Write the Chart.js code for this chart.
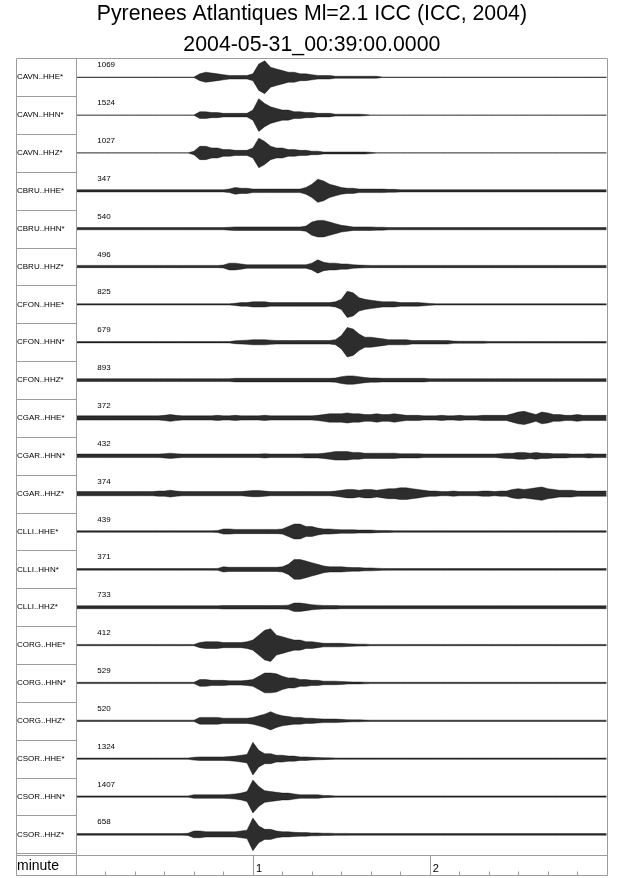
<!DOCTYPE html>
<html>
<head>
<meta charset="utf-8">
<script src="https://cdn.jsdelivr.net/npm/chart.js@4.4.1/dist/chart.umd.min.js"></script>
<style>
  html, body { margin: 0; padding: 0; background: #fff; }
  #wrap { width: 640px; height: 878px; position: relative; }
</style>
</head>
<body>
<div id="wrap"><canvas id="seis"></canvas></div>
<script>
// station / channel names, top to bottom
const stations = [
  'CAVN..HHE*', 'CAVN..HHN*', 'CAVN..HHZ*',
  'CBRU..HHE*', 'CBRU..HHN*', 'CBRU..HHZ*',
  'CFON..HHE*', 'CFON..HHN*', 'CFON..HHZ*',
  'CGAR..HHE*', 'CGAR..HHN*', 'CGAR..HHZ*',
  'CLLI..HHE*', 'CLLI..HHN*', 'CLLI..HHZ*',
  'CORG..HHE*', 'CORG..HHN*', 'CORG..HHZ*',
  'CSOR..HHE*', 'CSOR..HHN*', 'CSOR..HHZ*'
];

// peak amplitude printed above each trace
const amplitudes = [1069, 1524, 1027, 347, 540, 496, 825, 679, 893, 372, 432, 374,
                    439, 371, 733, 412, 529, 520, 1324, 1407, 658];

// sample times in seconds after 00:39:00
const times = [
  0, 2, 4, 6, 8, 10, 12, 14, 16, 18, 20, 22, 24, 26, 28, 30, 32, 34, 36, 38,
  40, 42, 44, 46, 48, 50, 52, 54, 56, 58, 60, 62, 64, 66, 68, 70, 72, 74, 76, 78,
  80, 82, 84, 86, 88, 90, 92, 94, 96, 98, 100, 102, 104, 106, 108, 110, 112, 114, 116, 118,
  120, 122, 124, 126, 128, 130, 132, 134, 136, 138, 140, 142, 144, 146, 148, 150, 152, 154, 156, 158,
  160, 162, 164, 166, 168, 170, 172, 174, 176, 178, 180
];

const minuteTicks = [60, 120];
const minuteLabels = ['1', '2'];
const minorTicks = [10, 20, 30, 40, 50, 70, 80, 90, 100, 110, 130, 140, 150, 160, 170];

// envelope of each trace (0..10, 10 = trace maximum), one value per sample time
const cavnHHE = [
  0,0,0,0,0,0,0,0,0,0, 0,0,0,0,0,0,0,0,0,0,
  0,2,3,2.5,2,1.5,1,1,1,1, 2,8,10,6,5,4,3,3,2,2,
  1.5,1,1,1,0.5,0.5,0.5,0.5,0.5,0.5, 0.5,0.5,0,0,0,0,0,0,0,0,
  0,0,0,0,0,0,0,0,0,0, 0,0,0,0,0,0,0,0,0,0, 0,0,0,0,0,0,0,0,0,0, 0];
const cavnHHN = [
  0,0,0,0,0,0,0,0,0,0, 0,0,0,0,0,0,0,0,0,0,
  0,2,2,1.5,1.5,1,1,1,1,1, 3,10,7,5,4,3,3,2,2,1.5,
  1.5,1,1,1,0.5,0.5,0.5,0.5,0.5,0.3, 0,0,0,0,0,0,0,0,0,0,
  0,0,0,0,0,0,0,0,0,0, 0,0,0,0,0,0,0,0,0,0, 0,0,0,0,0,0,0,0,0,0, 0];
const cavnHHZ = [
  0,0,0,0,0,0,0,0,0,0, 0,0,0,0,0,0,0,0,0,0,
  1,4,4,3,3,2,2,1.5,1.5,1.5, 3,9,7,4,3,3,2,2,1.5,1.5,
  1,1,0.5,0.5,0.5,0.5,0.5,0.5,0.5,0.5, 0.3,0,0,0,0,0,0,0,0,0,
  0,0,0,0,0,0,0,0,0,0, 0,0,0,0,0,0,0,0,0,0, 0,0,0,0,0,0,0,0,0,0, 0];
const cbruHHE = [
  0.6,0.6,0.6,0.6,0.6,0.6,0.6,0.6,0.6,0.6, 0.6,0.6,0.6,0.6,0.6,0.6,0.6,0.6,0.6,0.6,
  0.6,0.6,0.6,0.6,0.6,0.6,1,2,1.5,1.5, 1,1,1,1,1,1,1,1,1,2,
  4,7,6,4,3,2,1.5,1.5,1,1, 1,1,1,0.8,0.8,0.6,0.6,0.6,0.6,0.6,
  0.6,0.6,0.6,0.6,0.6,0.6,0.6,0.6,0.6,0.6, 0.6,0.6,0.6,0.6,0.6,0.6,0.6,0.6,0.6,0.6,
  0.6,0.6,0.6,0.6,0.6,0.6,0.6,0.6,0.6,0.6, 0.6];
const cbruHHN = [
  0.6,0.6,0.6,0.6,0.6,0.6,0.6,0.6,0.6,0.6, 0.6,0.6,0.6,0.6,0.6,0.6,0.6,0.6,0.6,0.6,
  0.6,0.6,0.6,0.6,0.6,0.6,0.8,1,1,1, 1,1,1,1,1,1,1,1,1,1.5,
  4,5,5,4,3,2,1.5,1,1,1, 1,0.8,0.8,0.6,0.6,0.6,0.6,0.6,0.6,0.6,
  0.6,0.6,0.6,0.6,0.6,0.6,0.6,0.6,0.6,0.6, 0.6,0.6,0.6,0.6,0.6,0.6,0.6,0.6,0.6,0.6,
  0.6,0.6,0.6,0.6,0.6,0.6,0.6,0.6,0.6,0.6, 0.6];
const cbruHHZ = [
  0.6,0.6,0.6,0.6,0.6,0.6,0.6,0.6,0.6,0.6, 0.6,0.6,0.6,0.6,0.6,0.6,0.6,0.6,0.6,0.6,
  0.6,0.6,0.6,0.6,0.6,0.8,2,2,1.5,1, 1,1,1,1,1,1,1,1,1,1,
  2,4,2.5,2,2,1.5,1.5,1,0.8,0.7, 0.6,0.6,0.6,0.6,0.6,0.6,0.6,0.6,0.6,0.6,
  0.6,0.6,0.6,0.6,0.6,0.6,0.6,0.6,0.6,0.6, 0.6,0.6,0.6,0.6,0.6,0.6,0.6,0.6,0.6,0.6,
  0.6,0.6,0.6,0.6,0.6,0.6,0.6,0.6,0.6,0.6, 0.6];
const cfonHHE = [
  0.3,0.3,0.3,0.3,0.3,0.3,0.3,0.3,0.3,0.3, 0.3,0.3,0.3,0.3,0.3,0.3,0.3,0.3,0.3,0.3,
  0.3,0.3,0.3,0.3,0.3,0.3,0.3,0.6,1,1, 1.5,1.5,1.5,1,1,1,1,1,1,1,
  1,1,1,1,1.5,3,8,7,4,3, 2.5,2,1.5,1.5,1.5,1,1,1,1,0.8,
  0.5,0.3,0.3,0.3,0.3,0.3,0.3,0.3,0.3,0.3, 0.3,0.3,0.3,0.3,0.3,0.3,0.3,0.3,0.3,0.3,
  0.3,0.3,0.3,0.3,0.3,0.3,0.3,0.3,0.3,0.3, 0.3];
const cfonHHN = [
  0.3,0.3,0.3,0.3,0.3,0.3,0.3,0.3,0.3,0.3, 0.3,0.3,0.3,0.3,0.3,0.3,0.3,0.3,0.3,0.3,
  0.3,0.3,0.3,0.3,0.3,0.3,0.3,0.8,1,1.2, 1.5,1.5,1.5,1.2,1,1,1,1,1,1,
  1,1,1,1,1.5,4,9,8,5,3, 3,2.5,2,1.5,1.5,1.5,1.5,1,1,1,
  1,1,1,1,0.6,0.5,0.5,0.5,0.5,0.5, 0.4,0.4,0.4,0.4,0.4,0.4,0.4,0.4,0.4,0.4,
  0.4,0.4,0.4,0.4,0.4,0.4,0.4,0.4,0.4,0.4, 0.4];
const cfonHHZ = [
  0.8,0.8,0.8,0.8,0.8,0.8,0.8,0.8,0.8,0.8, 0.8,0.8,0.8,0.8,0.8,0.8,0.8,0.8,0.8,0.8,
  0.8,0.8,0.8,0.8,0.8,0.8,0.8,1,1,1, 1,1,1,1,1,1,1,1,1,1,
  1,1,1,1,1.2,2,2.5,2.5,2,1.5, 1.2,1.2,1,1,1,1,1,1,1,1,
  0.8,0.8,0.8,0.8,0.8,0.8,0.8,0.8,0.8,0.8, 0.8,0.8,0.8,0.8,0.8,0.8,0.8,0.8,0.8,0.8,
  0.8,0.8,0.8,0.8,0.8,0.8,0.8,0.8,0.8,0.8, 0.8];
const cgarHHE = [
  1.2,1.2,1.2,1.2,1.2,1.2,1.2,1.2,1.2,1.2, 1.2,1.2,1.2,1.2,1.2,1.5,2,1.5,1.2,1.2,
  1.2,1.2,1.2,1.2,1.5,1.2,1.2,1.5,1.2,1.2, 1.2,1.2,1.5,1.2,1.2,1.2,1.2,1.2,1.2,1.2,
  1.2,1.5,2,2.5,2.5,2.5,3,2.5,2.5,2, 2,2.5,2,2,2.5,2,1.5,1.5,1.5,1.2,
  1.2,1.2,1.5,1.2,1.2,1.5,1.2,1.2,1.2,1.5, 1.5,1.5,1.5,1.5,2.5,3.5,4,3,2,3.5,
  3,2,2,1.5,1.5,2,1.5,1.5,1.5,1.5, 1.5];
const cgarHHN = [
  1,1,1,1,1,1,1,1,1,1, 1,1,1,1,1,1.2,1.5,1.2,1,1,
  1,1,1,1,1,1,1,1,1,1, 1,1,1.2,1,1,1,1,1,1,1.2,
  1.2,1.2,1.5,2,2.5,2.5,2.5,2,2,1.5, 1.5,1.5,1.5,1.5,1.5,1.2,1.2,1.2,1.2,1,
  1,1,1,1,1,1,1,1,1,1, 1,1,1.2,1.5,1.5,2,2,1.5,2,1.5,
  1.5,1.2,1.2,1.2,1,1,1,1.2,1,1, 1];
const cgarHHZ = [
  1.2,1.2,1.2,1.2,1.2,1.2,1.2,1.2,1.2,1.2, 1.2,1.2,1.2,1.2,1.5,1.5,2,1.5,1.2,1.2,
  1.2,1.2,1.2,1.2,1.2,1.2,1.2,1.2,1.2,1.5, 1.8,1.8,1.5,1.2,1.2,1.2,1.2,1.2,1.2,1.2,
  1.2,1.2,1.2,1.2,1.5,2,2.5,2.5,2,2.5, 2.5,2,2.5,3,3,3.5,3.5,3,2.5,2,
  1.5,1.5,1.2,1.2,1.5,1.2,1.2,1.2,1.2,1.5, 1.5,1.2,1.5,1.5,2.5,3,2.5,3,3.5,4,
  3,2.5,2,2,2,1.5,1.5,1.5,1.5,1.5, 1.5];
const clliHHE = [
  0.4,0.4,0.4,0.4,0.4,0.4,0.4,0.4,0.4,0.4, 0.4,0.4,0.4,0.4,0.4,0.4,0.4,0.4,0.4,0.4,
  0.4,0.4,0.4,0.4,0.5,1.5,1.5,1.2,1.2,1.2, 1.2,1.2,1.2,1.2,1.2,1.5,3,4.5,4.5,3,
  3,2,1.5,1.5,1.2,1,1,1,0.8,0.8, 0.8,0.6,0.5,0.5,0.4,0.4,0.4,0.4,0.4,0.4,
  0.4,0.4,0.4,0.4,0.4,0.4,0.4,0.4,0.4,0.4, 0.4,0.4,0.4,0.4,0.4,0.4,0.4,0.4,0.4,0.4,
  0.4,0.4,0.4,0.4,0.4,0.4,0.4,0.4,0.4,0.4, 0.4];
const clliHHN = [
  0.4,0.4,0.4,0.4,0.4,0.4,0.4,0.4,0.4,0.4, 0.4,0.4,0.4,0.4,0.4,0.4,0.4,0.4,0.4,0.4,
  0.4,0.4,0.4,0.4,0.5,1.5,1.2,1.2,1.2,1.2, 1.2,1.2,1.2,1.2,1.2,1.5,3,6,6,5,
  4,3,2,1.5,1.5,1.5,1.2,1,1,0.8, 0.8,0.6,0.5,0.4,0.4,0.4,0.4,0.4,0.4,0.4,
  0.4,0.4,0.4,0.4,0.4,0.4,0.4,0.4,0.4,0.4, 0.4,0.4,0.4,0.4,0.4,0.4,0.4,0.4,0.4,0.4,
  0.4,0.4,0.4,0.4,0.4,0.4,0.4,0.4,0.4,0.4, 0.4];
const clliHHZ = [
  0.8,0.8,0.8,0.8,0.8,0.8,0.8,0.8,0.8,0.8, 0.8,0.8,0.8,0.8,0.8,0.8,0.8,0.8,0.8,0.8,
  0.8,0.8,0.8,0.8,0.8,1,1,1,1,1, 1,1,1,1,1,1,1.2,2.5,2.5,2,
  1.5,1.2,1,1,1,0.8,0.8,0.8,0.8,0.8, 0.8,0.8,0.8,0.8,0.8,0.8,0.8,0.8,0.8,0.8,
  0.8,0.8,0.8,0.8,0.8,0.8,0.8,0.8,0.8,0.8, 0.8,0.8,0.8,0.8,0.8,0.8,0.8,0.8,0.8,0.8,
  0.8,0.8,0.8,0.8,0.8,0.8,0.8,0.8,0.8,0.8, 0.8];
const corgHHE = [
  0.3,0.3,0.3,0.3,0.3,0.3,0.3,0.3,0.3,0.3, 0.3,0.3,0.3,0.3,0.3,0.3,0.3,0.3,0.3,0.3,
  0.3,1.5,2,2,2,1.5,1.5,1.5,1.5,2, 3,6,9,10,6,5,4,3,3,2,
  2,1.5,1,1,1,1,0.8,0.6,0.5,0.5, 0.3,0.3,0.3,0.3,0.3,0.3,0.3,0.3,0.3,0.3,
  0.3,0.3,0.3,0.3,0.3,0.3,0.3,0.3,0.3,0.3, 0.3,0.3,0.3,0.3,0.3,0.3,0.3,0.3,0.3,0.3,
  0.3,0.3,0.3,0.3,0.3,0.3,0.3,0.3,0.3,0.3, 0.3];
const corgHHN = [
  0.3,0.3,0.3,0.3,0.3,0.3,0.3,0.3,0.3,0.3, 0.3,0.3,0.3,0.3,0.3,0.3,0.3,0.3,0.3,0.3,
  0.3,2,2,1.5,1.5,1.5,1.2,1.2,1.2,1.5, 2,4,6,6,5.5,4,3,3,2,2,
  1.5,1.5,1,1,1,0.8,0.6,0.5,0.5,0.4, 0.3,0.3,0.3,0.3,0.3,0.3,0.3,0.3,0.3,0.3,
  0.3,0.3,0.3,0.3,0.3,0.3,0.3,0.3,0.3,0.3, 0.3,0.3,0.3,0.3,0.3,0.3,0.3,0.3,0.3,0.3,
  0.3,0.3,0.3,0.3,0.3,0.3,0.3,0.3,0.3,0.3, 0.3];
const corgHHZ = [
  0.3,0.3,0.3,0.3,0.3,0.3,0.3,0.3,0.3,0.3, 0.3,0.3,0.3,0.3,0.3,0.3,0.3,0.3,0.3,0.3,
  0.3,2,2,2,2,1.5,1.5,1.5,1.5,1.5, 2,3,4,5.5,4,3,2.5,2,2,1.5,
  1.5,1.2,1,1,1,0.8,0.6,0.5,0.5,0.4, 0.3,0.3,0.3,0.3,0.3,0.3,0.3,0.3,0.3,0.3,
  0.3,0.3,0.3,0.3,0.3,0.3,0.3,0.3,0.3,0.3, 0.3,0.3,0.3,0.3,0.3,0.3,0.3,0.3,0.3,0.3,
  0.3,0.3,0.3,0.3,0.3,0.3,0.3,0.3,0.3,0.3, 0.3];
const csorHHE = [
  0.3,0.3,0.3,0.3,0.3,0.3,0.3,0.3,0.3,0.3, 0.3,0.3,0.3,0.3,0.3,0.3,0.3,0.3,0.3,0.3,
  0.8,1,1,1,1,1,1.2,1.5,2,2.5, 10,5,3,3,2,2,1.5,1.5,1,1,
  0.8,0.6,0.5,0.4,0.3,0.3,0.3,0.3,0.3,0.3, 0.3,0.3,0.3,0.3,0.3,0.3,0.3,0.3,0.3,0.3,
  0.3,0.3,0.3,0.3,0.3,0.3,0.3,0.3,0.3,0.3, 0.3,0.3,0.3,0.3,0.3,0.3,0.3,0.3,0.3,0.3,
  0.3,0.3,0.3,0.3,0.3,0.3,0.3,0.3,0.3,0.3, 0.3];
const csorHHN = [
  0.3,0.3,0.3,0.3,0.3,0.3,0.3,0.3,0.3,0.3, 0.3,0.3,0.3,0.3,0.3,0.3,0.3,0.3,0.3,0.3,
  1,1,1,1,1,1,1.2,1.5,2,3, 10,6,3.5,3,2.5,2,2,1.5,1,1,
  1,1,0.6,0.5,0.3,0.3,0.3,0.3,0.3,0.3, 0.3,0.3,0.3,0.3,0.3,0.3,0.3,0.3,0.3,0.3,
  0.3,0.3,0.3,0.3,0.3,0.3,0.3,0.3,0.3,0.3, 0.3,0.3,0.3,0.3,0.3,0.3,0.3,0.3,0.3,0.3,
  0.3,0.3,0.3,0.3,0.3,0.3,0.3,0.3,0.3,0.3, 0.3];
const csorHHZ = [
  0.4,0.4,0.4,0.4,0.4,0.4,0.4,0.4,0.4,0.4, 0.4,0.4,0.4,0.4,0.4,0.4,0.4,0.4,0.4,0.6,
  2,2,1.5,1.5,1.5,1.5,1.5,1.5,2,2.5, 10,5,3,3,2,1.5,1.5,1.2,1,1,
  0.8,0.8,0.6,0.6,0.5,0.5,0.5,0.4,0.4,0.4, 0.4,0.4,0.4,0.4,0.4,0.4,0.4,0.4,0.4,0.4,
  0.4,0.4,0.4,0.4,0.4,0.4,0.4,0.4,0.4,0.4, 0.4,0.4,0.4,0.4,0.4,0.4,0.4,0.4,0.4,0.4,
  0.4,0.4,0.4,0.4,0.4,0.4,0.4,0.4,0.4,0.4, 0.4];

const traces = [cavnHHE, cavnHHN, cavnHHZ, cbruHHE, cbruHHN, cbruHHZ,
                cfonHHE, cfonHHN, cfonHHZ, cgarHHE, cgarHHN, cgarHHZ,
                clliHHE, clliHHN, clliHHZ, corgHHE, corgHHN, corgHHZ,
                csorHHE, csorHHN, csorHHZ];

const rowCount = stations.length;
const levelToRows = 0.043;   // envelope level 10 ~ 0.43 of a row
const floorRows = 0.004;
const baseOf = i => rowCount - 0.5 - i;

const FONT = "'Liberation Sans', Arial, Helvetica, sans-serif";
const GRAY = '#9c9c9c';

const datasets = [];
traces.forEach((env, i) => {
  const base = baseOf(i);
  const style = {
    borderColor: 'rgba(0,0,0,0.9)',
    backgroundColor: 'rgba(10,10,10,0.86)',
    borderWidth: 0.45,
    pointRadius: 0,
    tension: 0
  };
  datasets.push(Object.assign({
    label: stations[i] + ' +',
    data: times.map((t, j) => ({ x: t, y: base + floorRows + env[j] * levelToRows })),
    fill: false
  }, style));
  datasets.push(Object.assign({
    label: stations[i] + ' -',
    data: times.map((t, j) => ({ x: t, y: base - floorRows - env[j] * levelToRows })),
    fill: '-1'
  }, style));
});

// frame, label column, amplitudes and minute ticks
const framePlugin = {
  id: 'frame',
  afterDraw(chart) {
    const { ctx, chartArea: a, scales: { x, y } } = chart;
    const left = 16.5, colRight = Math.round(a.left) + 0.5, right = Math.round(a.right) + 0.5;
    const top = Math.round(a.top) + 0.5;
    const axisTop = Math.round(a.bottom) + 2.5;
    const bottom = chart.height - 2.5;

    ctx.save();
    ctx.strokeStyle = GRAY;
    ctx.lineWidth = 1;
    ctx.beginPath();
    // outer frame
    ctx.moveTo(left, top); ctx.lineTo(right, top);
    ctx.moveTo(left, top); ctx.lineTo(left, bottom);
    ctx.moveTo(right, top); ctx.lineTo(right, bottom);
    ctx.moveTo(left, bottom); ctx.lineTo(right, bottom);
    ctx.moveTo(colRight, top); ctx.lineTo(colRight, bottom);
    ctx.moveTo(left, axisTop); ctx.lineTo(right, axisTop);
    // row separators in label column
    for (let r = 0; r < rowCount; r++) {
      const py = Math.round(y.getPixelForValue(r)) + 0.5;
      ctx.moveTo(left, py); ctx.lineTo(colRight, py);
    }
    // minute ticks
    minorTicks.forEach(t => {
      const px = Math.round(x.getPixelForValue(t)) + 0.5;
      ctx.moveTo(px, bottom); ctx.lineTo(px, bottom - 4);
    });
    minuteTicks.forEach(t => {
      const px = Math.round(x.getPixelForValue(t)) + 0.5;
      ctx.moveTo(px, axisTop); ctx.lineTo(px, bottom);
    });
    ctx.stroke();

    ctx.fillStyle = '#000';
    ctx.font = '8px ' + FONT;
    ctx.textBaseline = 'middle';
    ctx.textAlign = 'left';
    amplitudes.forEach((amp, i) => {
      ctx.fillText(String(amp), x.getPixelForValue(7.2), y.getPixelForValue(baseOf(i) + 0.32));
    });

    ctx.font = '14px ' + FONT;
    ctx.fillText('minute', 17, (axisTop + bottom) / 2 + 0.5);
    ctx.restore();
  }
};

new Chart(document.getElementById('seis'), {
  type: 'line',
  data: { datasets: datasets },
  plugins: [framePlugin],
  options: {
    responsive: true,
    maintainAspectRatio: false,
    animation: false,
    events: [],
    layout: { padding: { left: 17, right: 33.3, top: 0, bottom: 2 } },
    plugins: {
      legend: { display: false },
      tooltip: { enabled: false },
      title: {
        display: true,
        text: ['Pyrenees Atlantiques Ml=2.1 ICC (ICC, 2004)', '2004-05-31_00:39:00.0000'],
        color: '#000',
        font: { family: FONT, size: 21.3, weight: 'normal', lineHeight: 1.456 },
        padding: { top: -1.7, bottom: -2 }
      },
      filler: { propagate: false }
    },
    scales: {
      x: {
        type: 'linear',
        min: 0,
        max: 180,
        afterBuildTicks: scale => { scale.ticks = minuteTicks.map(v => ({ value: v })); },
        afterFit: scale => { scale.height = 22.7; },
        grid: { display: false, drawTicks: false },
        border: { display: false },
        ticks: {
          autoSkip: false,
          maxRotation: 0,
          align: 'start',
          labelOffset: 3,
          padding: 9,
          color: '#000',
          font: { family: FONT, size: 11 },
          callback: v => minuteLabels[minuteTicks.indexOf(v)] || ''
        }
      },
      y: {
        type: 'linear',
        min: 0,
        max: rowCount,
        afterBuildTicks: scale => { scale.ticks = stations.map((s, i) => ({ value: baseOf(i) })); },
        afterFit: scale => { scale.width = 59; },
        grid: { display: false, drawTicks: false },
        border: { display: false },
        ticks: {
          autoSkip: false,
          crossAlign: 'far',
          color: '#000',
          font: { family: FONT, size: 8 },
          callback: v => stations[Math.round(rowCount - 0.5 - v)]
        }
      }
    }
  }
});
</script>
</body>
</html>
